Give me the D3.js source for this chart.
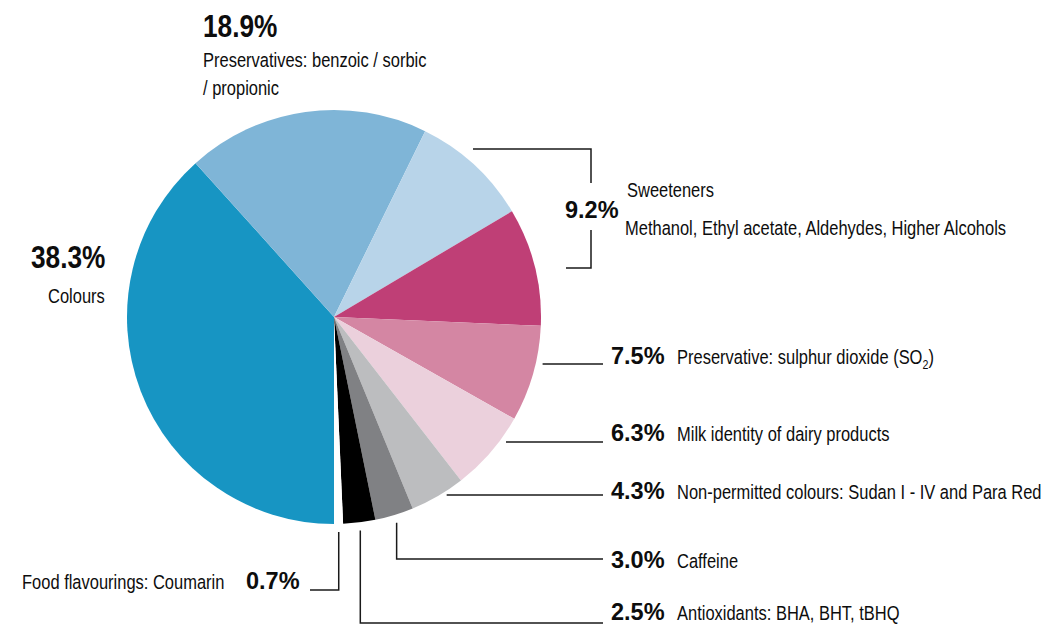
<!DOCTYPE html>
<html>
<head>
<meta charset="utf-8">
<script src="https://cdn.jsdelivr.net/npm/d3@7"></script>
<style>
  html, body { margin: 0; padding: 0; background: #fff; }
  svg { display: block; }
  .pct { font-family: "Liberation Sans", Arial, sans-serif; font-weight: bold; fill: #0d0d0d; }
  .lbl { font-family: "Liberation Sans", Arial, sans-serif; font-size: 20.1px; fill: #0d0d0d; }
  .leader { fill: none; stroke: #1a1a1a; stroke-width: 1.5; }
</style>
</head>
<body>
<svg id="chart" width="1045" height="625"></svg>
<script>
// Contaminant categories, clockwise from the bottom of the pie
const categories = [
  "Colours",
  "Preservatives: benzoic / sorbic / propionic",
  "Sweeteners",
  "Methanol, Ethyl acetate, Aldehydes, Higher Alcohols",
  "Preservative: sulphur dioxide (SO2)",
  "Milk identity of dairy products",
  "Non-permitted colours: Sudan I - IV and Para Red",
  "Caffeine",
  "Antioxidants: BHA, BHT, tBHQ",
  "Food flavourings: Coumarin"
];
// Share of samples (%)
const shares = [38.3, 18.9, 9.2, 9.2, 7.5, 6.3, 4.3, 3.0, 2.5, 0.7];
// Slice fills
const sliceColours = [
  "#1795c3", "#7fb5d7", "#b8d4e9", "#bf3f76", "#d486a3",
  "#ebd0dc", "#bcbdbf", "#808184", "#000000", "#ffffff"
];

const svg = d3.select("#chart");
const cx = 334, cy = 317, radius = 207;
const g = svg.append("g").attr("transform", `translate(${cx},${cy})`);

const pie = d3.pie().sort(null).value(d => d)
  .startAngle(Math.PI).endAngle(3 * Math.PI);
const arcs = pie(shares);
const arc = d3.arc().innerRadius(0).outerRadius(radius);

g.selectAll("path.slice")
  .data(arcs)
  .join("path")
  .attr("class", "slice")
  .attr("d", arc)
  .attr("fill", (d, i) => sliceColours[i]);

const fmt = v => d3.format(".1f")(v) + "%";
const midAngle = d => (d.startAngle + d.endAngle) / 2;
// x of the pie rim at a given screen y, on the right side
const rimX = y => cx + Math.sqrt(radius * radius - (y - cy) * (y - cy));

const lineLayer = svg.append("g");
const labelLayer = svg.append("g");

// Condensed lettering: a horizontally squeezed sans
function addText(x, y, cls, size, squeeze = 0.82) {
  const t = labelLayer.append("g")
    .attr("transform", `translate(${x},${y}) scale(${squeeze},1)`)
    .append("text").attr("class", cls);
  if (size) t.attr("font-size", size);
  return t;
}
const bigPct = (x, y, v) => addText(x, y, "pct", 32).text(fmt(v));
const smallPct = (x, y, v) => addText(x, y, "pct", 23.5, 1).text(fmt(v));

// --- Labels above / left of the pie (no leader lines) ---
bigPct(203, 37, shares[1]);
addText(203, 67, "lbl").text("Preservatives: benzoic / sorbic");
addText(203, 95, "lbl").text("/ propionic");

bigPct(31, 268, shares[0]);
addText(48, 303, "lbl").text(categories[0]);

// --- Shared 9.2% bracket for the two equal slices ---
const br = { x: 591, top: 149, bottom: 268, topFrom: 473, bottomFrom: 566, gapTop: 183, gapBottom: 230 };
lineLayer.append("path").attr("class", "leader")
  .attr("d", d3.line()([[br.topFrom, br.top], [br.x, br.top], [br.x, br.gapTop]]));
lineLayer.append("path").attr("class", "leader")
  .attr("d", d3.line()([[br.x, br.gapBottom], [br.x, br.bottom], [br.bottomFrom, br.bottom]]));
smallPct(565, 218, shares[2]);
addText(627, 197, "lbl").text(categories[2]);
addText(625, 235, "lbl").text(categories[3]);

// --- Right-hand labels with leader lines ---
const pctX = 611, textX = 677, lineEnd = 603, gap = 7;
// horizontal leaders leave the rim at lineY
const sideLabels = [
  { i: 4, lineY: 364, textY: 364 },
  { i: 5, lineY: 442, textY: 441 },
  { i: 6, lineY: 495, textY: 499 }
];
sideLabels.forEach(s => {
  lineLayer.append("path").attr("class", "leader")
    .attr("d", d3.line()([[rimX(s.lineY) + gap, s.lineY], [lineEnd, s.lineY]]));
});

// elbow leaders leave the pie below the slice middle
const elbowLabels = [
  { i: 7, lineY: 559, textY: 568, toX: lineEnd },
  { i: 8, lineY: 623, textY: 620, toX: lineEnd },
  { i: 9, lineY: 590, textY: 589, toX: 310 }
];
elbowLabels.forEach(s => {
  const a = midAngle(arcs[s.i]);
  const r0 = radius + 8;
  const x0 = cx + r0 * Math.sin(a), y0 = cy - r0 * Math.cos(a);
  lineLayer.append("path").attr("class", "leader")
    .attr("d", d3.line()([[x0, y0], [x0, s.lineY], [s.toX, s.lineY]]));
});

[...sideLabels, ...elbowLabels.slice(0, 2)].forEach(s => {
  smallPct(pctX, s.textY, shares[s.i]);
  const t = addText(textX, s.textY, "lbl");
  if (s.i === 4) {
    t.append("tspan").text("Preservative: sulphur dioxide (SO");
    t.append("tspan").attr("font-size", 13).attr("dy", 5).text("2");
    t.append("tspan").attr("dy", -5).text(")");
  } else {
    t.text(categories[s.i]);
  }
});

// Coumarin label sits left of its leader
smallPct(246, 589, shares[9]);
addText(22, 589, "lbl").text(categories[9]);
</script>
</body>
</html>
